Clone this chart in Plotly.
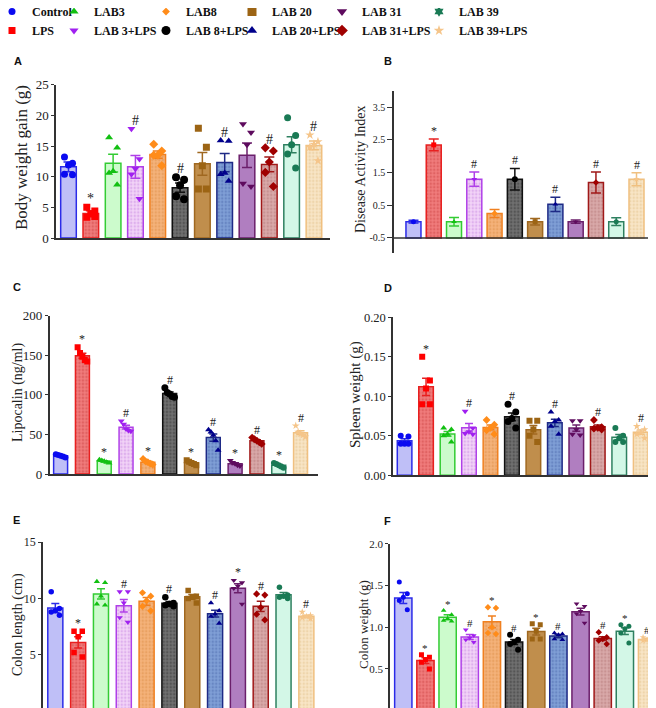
import plotly.graph_objects as go

W, H = 656, 708

GROUPS = ["Control", "LPS", "LAB3", "LAB 3+LPS", "LAB8", "LAB 8+LPS",
          "LAB 20", "LAB 20+LPS", "LAB 31", "LAB 31+LPS", "LAB 39", "LAB 39+LPS"]

FILL = ["#BFBFF7", "#F07C7C", "#CCFBCC", "#F2D4F7", "#F4B27A", "#707070",
        "#C08E4C", "#809FD6", "#B07EC0", "#D9A9A9", "#D3F7E7", "#F8E5C6"]
DOTC = ["#BFBFF7", "#D04848", "#CCFBCC", "#C98BE3", "#DD8F4A", "#3A3A3A",
        "#C08E4C", "#4F6EB0", "#B07EC0", "#B77C7C", "#D3F7E7", "#E3C590"]
LINE = ["#2B2BE8", "#E82020", "#33CC33", "#B040E8", "#F08020", "#111111",
        "#A06820", "#1E2A86", "#6B1F6B", "#A01818", "#2E8060", "#F0C080"]
MARK = ["#0A0AF0", "#FF0000", "#12C012", "#A020F0", "#FF8C1A", "#000000",
        "#9C6414", "#00008B", "#5E0B5E", "#A00000", "#1A7A55", "#F5C58A"]
SYMBOL = ["circle", "square", "triangle-up", "triangle-down", "diamond", "circle",
          "square", "triangle-up", "triangle-down", "diamond", "circle", "star"]
LEG_SYMBOL = ["circle", "square", "triangle-up", "triangle-down", "diamond", "circle",
              "square", "triangle-up", "triangle-down", "diamond", "hexagram", "star"]
LEG_SIZE = [7, 7, 8, 8, 6, 9, 9, 9, 9, 9, 8, 8]
PATTERN = ["", ".", "", ".", ".", ".", "", ".", "", ".", "", "."]

# ---- Panel A: Body weight gain (g)
A_PTS = [[13.2, 12.2, 11.9, 10.4, 10.3], [5.0, 4.4, 3.9, 3.4, 3.5],
         [16.4, 14.7, 10.9, 10.6, 8.7], [17.8, 12.9, 11.3, 10.4, 6.4],
         [15.3, 14.2, 13.5, 13.5, 11.8], [9.9, 9.5, 8.6, 6.8, 6.3],
         [17.9, 14.8, 11.8, 8.0, 8.0], [15.9, 15.8, 10.6, 10.4, 9.3],
         [18.6, 17.2, 15.2, 8.9, 8.4], [14.7, 14.2, 12.4, 10.7, 8.4],
         [19.6, 16.7, 15.2, 13.7, 11.4], [16.8, 15.7, 15.3, 14.8, 12.6]]
A_MEAN = [11.6, 4.0, 12.2, 11.6, 13.6, 8.2, 12.1, 12.3, 13.5, 12.0, 15.2, 15.1]
A_SEM = [0.8, 0.45, 1.45, 1.85, 0.6, 0.75, 1.85, 1.5, 2.0, 1.2, 1.3, 0.7]
A_SIG = ["", "*", "", "#", "", "#", "", "#", "", "#", "", "#"]

# ---- Panel B: Disease Activity Index
B_MEAN = [0.0, 2.35, 0.0, 1.3, 0.25, 1.3, 0.0, 0.53, 0.0, 1.2, 0.0, 1.3]
B_SEM = [0.04, 0.18, 0.13, 0.22, 0.12, 0.33, 0.1, 0.22, 0.05, 0.32, 0.12, 0.2]
B_SIG = ["", "*", "", "#", "", "#", "", "#", "", "#", "", "#"]

# ---- Panel C: Lipocalin (ng/ml)
C_PTS = [[25, 24, 23, 22, 21], [160, 153, 148, 144, 142], [18, 17, 16, 15, 14],
         [67, 63, 57, 55, 54], [19, 16, 15, 13, 12], [109, 103, 101, 98, 97],
         [17.5, 15.5, 14, 12.5, 11], [56, 53, 49, 42, 30], [17, 14.5, 13, 11, 10],
         [46, 44, 42, 40, 38], [14, 12.5, 11, 9.5, 8], [61, 53, 51, 49, 47]]
C_MEAN = [23, 149.4, 16, 59.2, 15, 101.6, 14.1, 46, 13.1, 42, 11, 52.2]
C_SEM = [0.7, 3.2, 0.7, 2.5, 1.2, 2.1, 1.1, 4.6, 1.2, 1.4, 1.0, 2.4]
C_SIG = ["", "*", "*", "#", "*", "#", "*", "#", "*", "#", "*", "#"]

# ---- Panel D: Spleen weight (g)
D_PTS = [[0.050, 0.049, 0.040, 0.040, 0.040], [0.150, 0.120, 0.110, 0.090, 0.090],
         [0.060, 0.058, 0.052, 0.050, 0.042], [0.081, 0.060, 0.055, 0.053, 0.052],
         [0.070, 0.064, 0.060, 0.057, 0.052], [0.090, 0.080, 0.072, 0.068, 0.060],
         [0.069, 0.069, 0.058, 0.050, 0.042], [0.080, 0.070, 0.068, 0.062, 0.052],
         [0.069, 0.069, 0.058, 0.052, 0.051], [0.070, 0.061, 0.060, 0.059, 0.058],
         [0.060, 0.050, 0.047, 0.042, 0.042], [0.062, 0.058, 0.054, 0.052, 0.047]]
D_MEAN = [0.0438, 0.112, 0.0524, 0.0602, 0.0606, 0.074, 0.0576, 0.0664, 0.0598, 0.0616, 0.0482, 0.0546]
D_SEM = [0.0025, 0.011, 0.003, 0.0055, 0.003, 0.005, 0.0053, 0.0046, 0.004, 0.002, 0.0033, 0.0026]
D_SIG = ["", "*", "", "#", "", "#", "", "#", "", "#", "", "#"]

# ---- Panel E: Colon length (cm)
E_PTS = [[10.6, 9.1, 8.9, 8.8, 8.5], [7.1, 7.1, 6.6, 5.2, 4.8], [11.5, 11.4, 10.2, 9.5, 9.4],
         [10.6, 10.6, 9.6, 8.3, 7.9], [10.5, 10.2, 9.8, 9.3, 8.9], [10.1, 9.6, 9.5, 9.4, 9.3],
         [10.7, 10.2, 10.1, 10.0, 9.6], [9.6, 8.9, 8.6, 8.4, 7.8], [11.6, 11.4, 11.1, 10.9, 9.5],
         [10.4, 10.3, 9.2, 8.6, 8.1], [11.0, 10.3, 10.2, 10.1, 10.0], [8.8, 8.5, 8.4, 8.3, 8.2]]
E_MEAN = [9.15, 6.1, 10.4, 9.35, 9.74, 9.58, 10.15, 8.65, 10.9, 9.3, 10.33, 8.42]
E_SEM = [0.4, 0.5, 0.45, 0.55, 0.35, 0.15, 0.2, 0.3, 0.4, 0.45, 0.2, 0.1]
E_SIG = ["", "*", "", "#", "", "#", "", "#", "*", "#", "", "#"]

# ---- Panel F: Colon weight (g)
F_PTS = [[1.54, 1.40, 1.36, 1.32, 1.21], [0.67, 0.64, 0.61, 0.58, 0.50],
         [1.20, 1.15, 1.10, 1.08, 1.07], [0.97, 0.90, 0.87, 0.85, 0.82],
         [1.24, 1.23, 1.00, 0.93, 0.92], [0.91, 0.85, 0.82, 0.80, 0.73],
         [1.04, 1.03, 0.95, 0.86, 0.86], [0.93, 0.92, 0.91, 0.86, 0.85],
         [1.28, 1.25, 1.19, 1.16, 1.05], [0.94, 0.88, 0.86, 0.84, 0.80],
         [1.03, 1.01, 0.98, 0.93, 0.81], [0.88, 0.87, 0.85, 0.84, 0.83]]
F_MEAN = [1.35, 0.60, 1.12, 0.882, 1.064, 0.822, 0.948, 0.894, 1.186, 0.864, 0.952, 0.854]
F_SEM = [0.065, 0.035, 0.03, 0.03, 0.07, 0.03, 0.04, 0.02, 0.04, 0.022, 0.04, 0.015]
F_SIG = ["", "*", "*", "#", "*", "#", "*", "#", "", "#", "*", "#"]

JIT_MIX = [-0.18, 0.18, 0.0, -0.18, 0.18]
JIT_DIAG = [-0.22, -0.11, 0.0, 0.11, 0.22]

SERIF = "Liberation Serif"

PANELS = [
    dict(letter="A", title="Body weight gain (g)", pts=A_PTS, mean=A_MEAN, sem=A_SEM, sig=A_SIG,
         ax=(48, 322), ay=(230, 76.7), yr=[0, 25], xr=[-0.56, 11.72],
         tv=[0, 5, 10, 15, 20, 25], tt=["0", "5", "10", "15", "20", "25"], tfs=13, tl=3,
         ttl=(13, 150, 17), lab=(4, 53.5), bw=0.70, ms=7, jit=JIT_MIX, sfs=14, cap=5),
    dict(letter="B", title="Disease Activity Index", pts=None, mean=B_MEAN, sem=B_SEM, sig=B_SIG,
         ax=(386, 650), ay=(245, 83), yr=[-0.96, 4.0], xr=[-0.96, 12.06], base=-0.5,
         tv=[-0.5, 0.5, 1.5, 2.5, 3.5], tt=["-0.5", "0.5", "1.5", "2.5", "3.5"], tfs=10, tl=5,
         ttl=(352, 161, 14), lab=(374, 53.5), bw=0.74, ms=5, jit=None, sfs=12, cap=5),
    dict(letter="C", title="Lipocalin (ng/ml)", pts=C_PTS, mean=C_MEAN, sem=C_SEM, sig=C_SIG,
         ax=(41.7, 310), ay=(466, 307.7), yr=[0, 200], xr=[-0.5, 11.8],
         tv=[0, 50, 100, 150, 200], tt=["0", "50", "100", "150", "200"], tfs=13, tl=3,
         ttl=(10, 385, 14), lab=(3, 279), bw=0.64, ms=6, jit=JIT_DIAG, sfs=12, cap=4),
    dict(letter="D", title="Spleen weight (g)", pts=D_PTS, mean=D_MEAN, sem=D_SEM, sig=D_SIG,
         ax=(385, 643), ay=(467.3, 309.3), yr=[0, 0.2], xr=[-0.54, 11.48],
         tv=[0, 0.05, 0.10, 0.15, 0.20], tt=["0.00", "0.05", "0.10", "0.15", "0.20"], tfs=12.5, tl=3,
         ttl=(347, 387, 15), lab=(374, 279.5), bw=0.68, ms=6, jit=JIT_MIX, sfs=12, cap=4),
    dict(letter="E", title="Colon length (cm)", pts=E_PTS, mean=E_MEAN, sem=E_SEM, sig=E_SIG,
         ax=(35, 310), ay=(703.3, 534), yr=[0, 15], xr=[-0.54, 11.51],
         tv=[0, 5, 10, 15], tt=["0", "5", "10", "15"], tfs=12, tl=3,
         ttl=(10, 617, 14), lab=(3, 512), bw=0.66, ms=5.5, jit=JIT_MIX, sfs=12, cap=4),
    dict(letter="F", title="Colon weight (g)", pts=F_PTS, mean=F_MEAN, sem=F_SEM, sig=F_SIG,
         ax=(382, 655), ay=(702.7, 535.7), yr=[0, 2], xr=[-0.6, 11.72],
         tv=[0, 0.5, 1.0, 1.5, 2.0], tt=["0.0", "0.5", "1.0", "1.5", "2.0"], tfs=11, tl=3,
         ttl=(355, 617, 13), lab=(374, 513), bw=0.78, ms=5, jit=JIT_MIX, sfs=11, cap=4),
]

def fx(x):
    return x / W

def fy(y):
    return 1 - y / H

fig = go.Figure()
annotations = []
shapes = []
layout = {}
AXC = "#333333"

for pi, P in enumerate(PANELS):
    n = pi + 1
    xa = "x" if n == 1 else f"x{n}"
    ya = "y" if n == 1 else f"y{n}"
    xk = "xaxis" if n == 1 else f"xaxis{n}"
    yk = "yaxis" if n == 1 else f"yaxis{n}"
    base = P.get("base", 0)
    layout[xk] = dict(domain=[fx(P["ax"][0]), fx(P["ax"][1])], range=P["xr"], anchor=ya,
                      showline=(base == 0), linecolor=AXC, linewidth=1.5, ticks="",
                      showticklabels=False, showgrid=False, zeroline=False, fixedrange=True)
    layout[yk] = dict(domain=[fy(P["ay"][0]), fy(P["ay"][1])], range=P["yr"], anchor=xa,
                      showline=True, linecolor=AXC, linewidth=1.5, ticks="outside",
                      ticklen=P["tl"], tickwidth=1.2, tickcolor=AXC, ticklabeloverflow="allow",
                      tickvals=P["tv"], ticktext=P["tt"], showgrid=False, zeroline=False,
                      tickfont=dict(family=SERIF, size=P["tfs"], color="#222222"), fixedrange=True)
    if base != 0:
        shapes.append(dict(type="line", xref=f"{xa} domain", yref=ya, x0=0, x1=1, y0=base, y1=base,
                           line=dict(color=AXC, width=1.5)))
    for g in range(12):
        fig.add_trace(go.Bar(
            x=[g], y=[P["mean"][g] - base], base=base, width=P["bw"], xaxis=xa, yaxis=ya,
            marker=dict(color=FILL[g], line=dict(color=LINE[g], width=1.5),
                        pattern=dict(shape=PATTERN[g], fgcolor=DOTC[g], bgcolor=FILL[g],
                                     size=3.5, solidity=0.4)),
            error_y=dict(type="data", array=[P["sem"][g]], color=LINE[g], thickness=1.5,
                         width=P["cap"]),
            showlegend=False, hoverinfo="skip"))
    for g in range(12):
        if P["pts"] is not None:
            pts = P["pts"][g]
            xs = [g + P["jit"][k % len(P["jit"])] for k in range(len(pts))]
            ys = pts
            top = max(max(pts), P["mean"][g] + P["sem"][g])
        else:
            xs = [g]
            ys = [P["mean"][g]]
            top = P["mean"][g] + P["sem"][g]
        fig.add_trace(go.Scatter(
            x=xs, y=ys, mode="markers", xaxis=xa, yaxis=ya,
            marker=dict(symbol=SYMBOL[g], color=MARK[g], size=P["ms"] + (1 if g == 5 else 0),
                        line=dict(width=0)),
            showlegend=False, hoverinfo="skip"))
        if P["sig"][g]:
            annotations.append(dict(x=g, y=top, xref=xa, yref=ya, text=P["sig"][g],
                                    showarrow=False, yanchor="bottom", yshift=-1,
                                    font=dict(family=SERIF, size=P["sfs"], color="#222222")))
    tx, ty, ts = P["ttl"]
    annotations.append(dict(x=fx(tx), y=fy(ty), xref="paper", yref="paper", text=P["title"],
                            textangle=-90, showarrow=False, xanchor="center", yanchor="middle",
                            font=dict(family=SERIF, size=ts, color="#222222")))
    lx, ly = P["lab"]
    annotations.append(dict(x=fx(lx), y=fy(ly), xref="paper", yref="paper", text=P["letter"],
                            showarrow=False, xanchor="left", yanchor="middle",
                            font=dict(family="Liberation Sans", size=11, color="#111111",
                                      weight="bold")))

# legend: six columns of two entries
COL_L = [-1, 61, 153, 239, 329, 426]
for c in range(6):
    lname = "legend" if c == 0 else f"legend{c + 1}"
    layout[lname] = dict(x=fx(COL_L[c]), y=1.0 + 11 / H, xanchor="left", yanchor="top",
                         orientation="v", bgcolor="rgba(0,0,0,0)", borderwidth=0, indentation=-15,
                         itemsizing="trace", tracegroupgap=0, itemclick=False,
                         font=dict(family=SERIF, size=12, color="#111111", weight="bold"))
    for r in range(2):
        g = 2 * c + r
        fig.add_trace(go.Scatter(
            x=[None], y=[None], mode="markers", name=GROUPS[g], legend=lname,
            marker=dict(symbol=LEG_SYMBOL[g], color=MARK[g], size=LEG_SIZE[g]),
            showlegend=True, hoverinfo="skip"))

fig.update_layout(
    width=W, height=H, margin=dict(l=0, r=0, t=0, b=0, autoexpand=False),
    paper_bgcolor="white", plot_bgcolor="rgba(0,0,0,0)",
    barmode="overlay", annotations=annotations, shapes=shapes,
    font=dict(family=SERIF, color="#222222"), **layout)

fig.write_html("out.html")
